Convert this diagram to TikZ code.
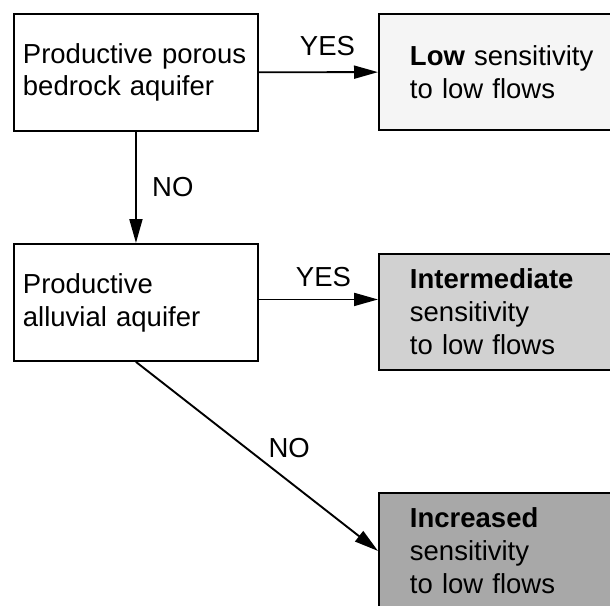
\documentclass[tikz,border=0pt]{standalone}
\usepackage{fontspec}
\setmainfont{Liberation Sans}
\usetikzlibrary{arrows.meta}
\definecolor{lowgray}{gray}{0.96}
\definecolor{midgray}{gray}{0.82}
\definecolor{highgray}{gray}{0.66}
\begin{document}
\begin{tikzpicture}[x=1bp,y=-1bp, line width=1.9bp,
  every node/.style={font=\fontsize{27.6}{33}\selectfont},
  question/.style={draw, anchor=north west, align=left, text width=226bp, inner xsep=9bp, minimum height=117bp},
  answer/.style={draw, anchor=north west, align=left, text width=220bp, inner xsep=31bp, minimum height=116bp},
  flow/.style={-{Triangle[length=24bp,width=13bp]}}]
\useasboundingbox (0,0) rectangle (610,606);
\node[question] (porous) at (13,13) {Productive porous\\bedrock aquifer};
\node[question] (alluvial) at (13,243) {Productive\\alluvial aquifer};
\node[answer, fill=lowgray] (low) at (378,13) {\textbf{Low} sensitivity\\to low flows};
\node[answer, fill=midgray] (mid) at (378,253) {\textbf{Intermediate}\\sensitivity\\to low flows};
\node[answer, fill=highgray] (high) at (378,492) {\textbf{Increased}\\sensitivity\\to low flows};
\draw[flow] (porous) -- node[above=12bp, xshift=9bp] {YES} (low);
\draw[flow] (porous) -- node[right=12bp] {NO} (alluvial);
\coordinate (yes2) at ([yshift=3bp]alluvial.east);
\draw[flow] (yes2) -- node[above=8bp, xshift=5bp] {YES} (yes2 -| mid.west);
\draw[flow] (alluvial.south) -- node[pos=0.53, above right] {NO} (high.west);
\end{tikzpicture}
\end{document}
